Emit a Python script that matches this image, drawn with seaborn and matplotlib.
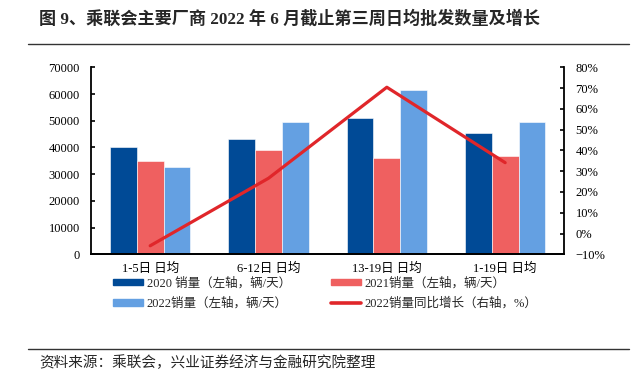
import numpy as np
import pandas as pd
import seaborn as sns
import matplotlib.pyplot as plt
from matplotlib.patches import Patch
from matplotlib.lines import Line2D
from matplotlib.ticker import PercentFormatter, MultipleLocator

# data
periods = ['1-5日 日均', '6-12日 日均', '13-19日 日均', '1-19日 日均']
sales_2020 = [40100, 43200, 51000, 45300]
sales_2021 = [34800, 39100, 36000, 36800]
sales_2022 = [32800, 49400, 61500, 49500]
growth_2022 = [-0.059, 0.266, 0.704, 0.341]

series = ['2020 销量（左轴，辆/天）', '2021销量（左轴，辆/天）', '2022销量（左轴，辆/天）']
line_label = '2022销量同比增长（右轴，%）'
colors = ['#004A96', '#EF6060', '#64A0E2']
line_color = '#E0262A'

df = pd.DataFrame({
    'period': periods * 3,
    'sales': sales_2020 + sales_2021 + sales_2022,
    'series': [s for s in series for _ in periods],
})

sns.set_theme(style='white')
plt.rcParams['font.family'] = ['Liberation Serif', 'Noto Sans CJK SC', 'DejaVu Sans']

fig = plt.figure(figsize=(6.36, 3.77), dpi=100)
ax = fig.add_axes([0.1431, 0.3255, 0.7442, 0.496])

sns.barplot(data=df, x='period', y='sales', hue='series', palette=colors,
            width=0.68, gap=0, saturation=1, edgecolor='white', linewidth=0.4,
            legend=False, ax=ax)
ax.set_xlim(-0.5, 3.5)
ax.set_ylim(0, 70000)
ax.yaxis.set_major_locator(MultipleLocator(10000))
ax.set_xlabel('')
ax.set_ylabel('')

ax2 = ax.twinx()
sns.lineplot(x=np.arange(len(periods)), y=growth_2022, color=line_color,
             linewidth=2.3, ax=ax2)
ax2.set_ylim(-0.1, 0.8)
ax2.yaxis.set_major_locator(MultipleLocator(0.1))
ax2.yaxis.set_major_formatter(PercentFormatter(1.0, decimals=0))

for a in (ax, ax2):
    for side in ['left', 'right', 'bottom']:
        a.spines[side].set_visible(True)
        a.spines[side].set_color('black')
        a.spines[side].set_linewidth(1.3)
    a.spines['top'].set_visible(False)
ax.spines['right'].set_visible(False)
ax2.spines['left'].set_visible(False)

ax.tick_params(axis='y', direction='in', length=3, width=1.2, labelsize=9,
               pad=8, colors='black', left=True)
ax.tick_params(axis='x', length=0, labelsize=9, pad=6, colors='black')
ax2.tick_params(axis='y', direction='in', length=3, width=1.2, labelsize=9,
                pad=8, colors='black', right=True)
ax.grid(False)
ax2.grid(False)

handles = [Patch(color=colors[0]), Patch(color=colors[2]),
           Patch(color=colors[1]), Line2D([], [], color=line_color, lw=2.6)]
labels = [series[0], series[2], series[1], line_label]
fig.legend(handles, labels, ncol=2, loc='upper left',
           bbox_to_anchor=(113 / 636, 1 - 277 / 377), frameon=False,
           fontsize=9, handlelength=2.4, handleheight=0.45, handletextpad=0.3,
           labelspacing=0.65, columnspacing=3.2, borderpad=0, borderaxespad=0)

# title and source
fig.text(39 / 636, 1 - 18.5 / 377,
         '图 9、乘联会主要厂商 2022 年 6 月截止第三周日均批发数量及增长',
         fontsize=12.3, fontweight='bold', va='center', ha='left')
fig.add_artist(Line2D([28 / 636, 629 / 636], [1 - 44 / 377, 1 - 44 / 377],
                      color='#333333', lw=1.0))
fig.add_artist(Line2D([28 / 636, 629 / 636], [1 - 349 / 377, 1 - 349 / 377],
                      color='#333333', lw=1.0))
fig.text(39 / 636, 1 - 363 / 377, '资料来源：乘联会，兴业证券经济与金融研究院整理',
         fontsize=10.5, va='center', ha='left')

fig.savefig('out.png', dpi=100, facecolor='white')
